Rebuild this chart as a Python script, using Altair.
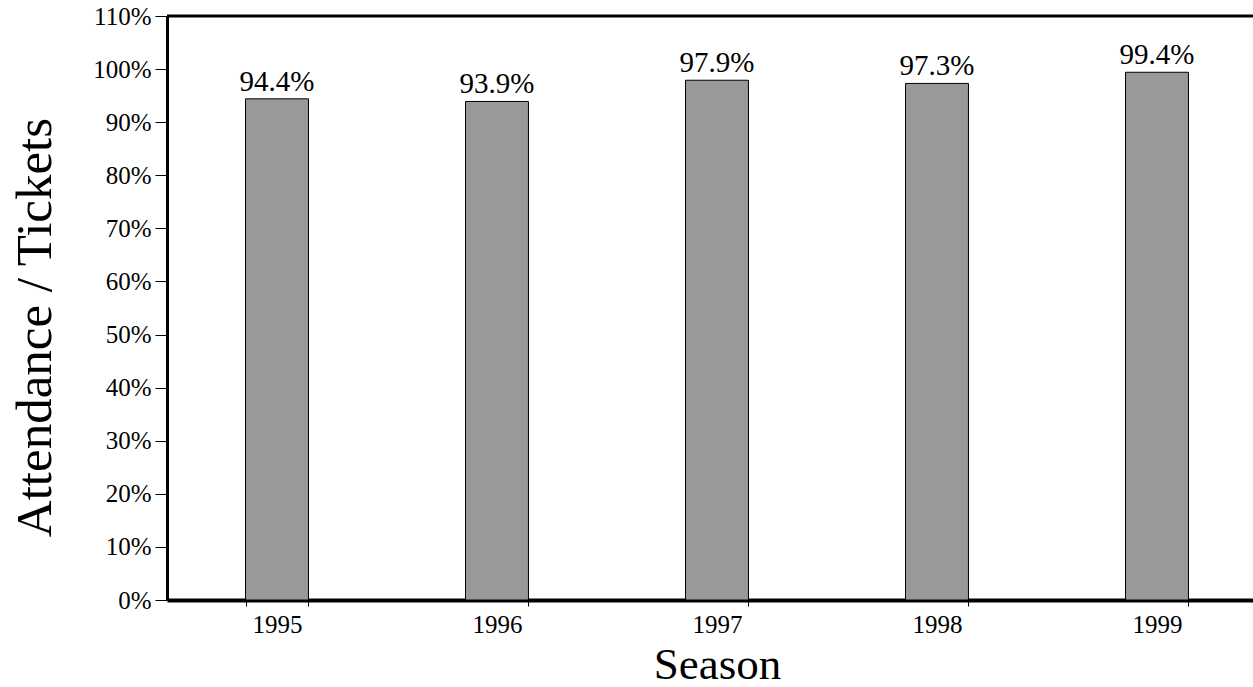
import altair as alt
import pandas as pd

# Season attendance as a share of tickets
seasons = ["1995", "1996", "1997", "1998", "1999"]
attendance = [0.944, 0.939, 0.979, 0.973, 0.994]
label_text = ["94.4%", "93.9%", "97.9%", "97.3%", "99.4%"]
y_ticks = [round(i * 0.1, 1) for i in range(12)]

df = pd.DataFrame({"season": seasons, "share": attendance, "label": label_text})

FONT = "Liberation Serif"

x_enc = alt.X(
    "season:N",
    sort=seasons,
    scale=alt.Scale(range=[0, 1100], paddingInner=0.714, paddingOuter=0.357),
    axis=alt.Axis(
        title="Season",
        labelAngle=0,
        tickBand="extent",
        tickSize=6,
        tickColor="black",
        tickWidth=1,
        domainColor="black",
        domainWidth=4,
        labelFont=FONT,
        labelFontSize=25,
        labelColor="black",
        labelPadding=6,
        titleFont=FONT,
        titleFontSize=45,
        titleFontWeight="normal",
        titleColor="black",
        titlePadding=5,
    ),
)

y_scale = alt.Scale(domain=[0, 1.1], nice=False, zero=True)

bars = alt.Chart(df).mark_bar(color="#999999", stroke="black", strokeWidth=1).encode(
    x=x_enc,
    y=alt.Y(
        "share:Q",
        scale=y_scale,
        axis=alt.Axis(
            title="Attendance / Tickets",
            values=y_ticks,
            format=".0%",
            grid=False,
            tickSize=12,
            tickColor="black",
            tickWidth=1,
            domainColor="black",
            domainWidth=3,
            labelFont=FONT,
            labelFontSize=25,
            labelColor="black",
            labelPadding=4,
            titleFont=FONT,
            titleFontSize=51,
            titleFontWeight="normal",
            titleColor="black",
            titleAngle=-90,
            titleAlign="center",
            titleBaseline="alphabetic",
            titleX=-117,
            titleY=311,
        ),
    ),
)

labels = alt.Chart(df).mark_text(
    font=FONT, fontSize=29, color="black", baseline="alphabetic", dy=-8
).encode(
    x=alt.X("season:N", sort=seasons),
    y=alt.Y("share:Q", scale=y_scale),
    text="label:N",
)

# frame line along the top of the plot
top_line = alt.Chart(pd.DataFrame({"v": [1.1]})).mark_rule(
    color="black", strokeWidth=3
).encode(y=alt.Y("v:Q", scale=y_scale))

chart = (
    alt.layer(bars, labels, top_line)
    .properties(
        width=1086,
        height=584,
        autosize=alt.AutoSizeParams(type="none"),
        padding={"left": 167, "top": 16, "right": 0, "bottom": 87},
        background="white",
    )
    .configure_view(stroke=None)
)

chart.save("out.html", embed_options={"renderer": "svg", "actions": False})
